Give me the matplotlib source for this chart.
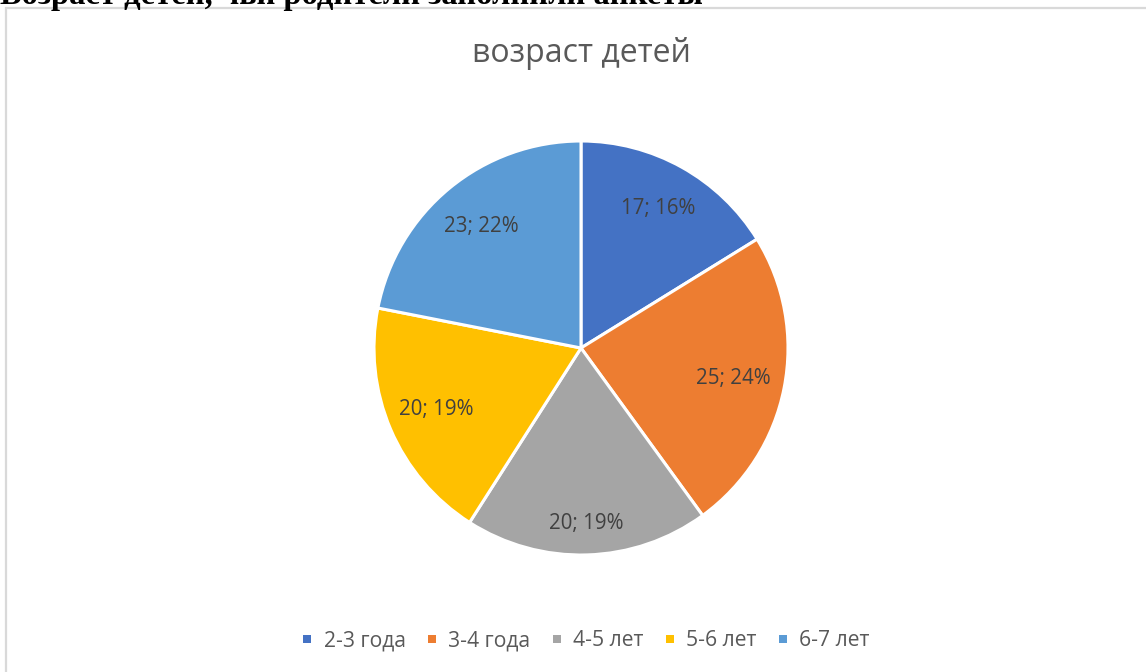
import matplotlib
matplotlib.use("Agg")
import numpy as np
import matplotlib.pyplot as plt
from matplotlib.patches import Rectangle
from matplotlib.lines import Line2D

W, H = 1146, 672

categories = ["2-3 года", "3-4 года", "4-5 лет", "5-6 лет", "6-7 лет"]
counts = [17, 25, 20, 20, 23]
percents = [16, 24, 19, 19, 22]
colors = ["#4472C4", "#ED7D31", "#A5A5A5", "#FFC000", "#5B9BD5"]

chart_title = "возраст детей"
page_heading = "Возраст детей, чьи родители заполнили анкеты"

# how far from the centre each data label sits (fraction of radius)
label_dist = [0.77, 0.75, 0.85, 0.76, 0.76]

plt.rcParams["font.family"] = ["Open Sans", "DejaVu Sans"]

fig = plt.figure(figsize=(W / 100, H / 100), dpi=100)

# ==========================
# CHART FRAME
# ==========================

fig.add_artist(Rectangle(
    (6 / W, -0.05), 1.1, (H - 8) / H + 0.05,
    fill=False, edgecolor="#D9D9D9", linewidth=1.6,
    transform=fig.transFigure
))

# cropped heading of the document page
fig.text(
    0, 1 - 4 / H, page_heading,
    family=["Liberation Serif", "DejaVu Serif"],
    fontweight="bold", fontsize=23.5, va="baseline", ha="left",
    color="black"
)

# ==========================
# PIE
# ==========================

cx, cy, r = 581, 348, 207
ax = fig.add_axes([
    (cx - r) / W, (H - cy - r) / H, 2 * r / W, 2 * r / H
])

wedges, _ = ax.pie(
    counts,
    colors=colors,
    startangle=90,
    counterclock=False,
    wedgeprops={"edgecolor": "white", "linewidth": 2.2}
)

for w, c, p, d in zip(wedges, counts, percents, label_dist):
    mid = np.deg2rad((w.theta1 + w.theta2) / 2)
    ax.text(
        d * np.cos(mid), d * np.sin(mid), f"{c}; {p}%",
        ha="center", va="center", fontsize=14.8, color="#404040"
    )

ax.set_xlim(-1, 1)
ax.set_ylim(-1, 1)
ax.set_aspect("equal")
ax.axis("off")

fig.text(
    cx / W, 1 - 62 / H, chart_title,
    ha="center", va="baseline", fontsize=23, color="#595959"
)

# ==========================
# LEGEND
# ==========================

handles = [
    Line2D([], [], linestyle="none", marker="s", markersize=5.2,
           markerfacecolor=col, markeredgewidth=0)
    for col in colors
]

fig.legend(
    handles, categories,
    loc="center", bbox_to_anchor=(586 / W, 1 - 641 / H),
    ncol=5, frameon=False, fontsize=15.2,
    labelcolor="#595959",
    handlelength=0.47,
    handletextpad=0.55, columnspacing=1.0
)

fig.savefig("out.png", dpi=100)
